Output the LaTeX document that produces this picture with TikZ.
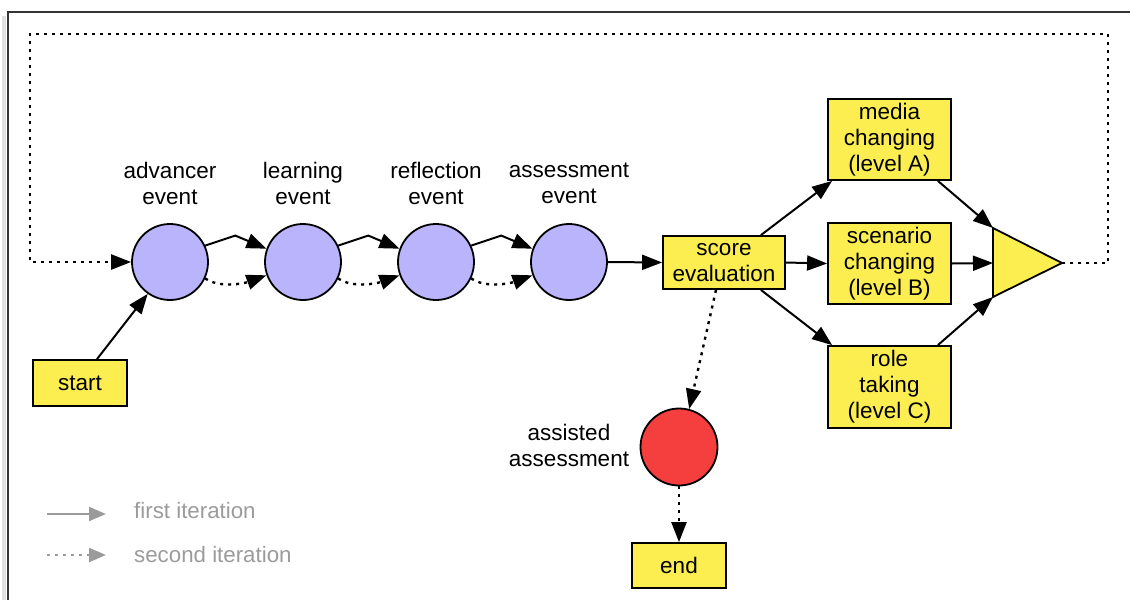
\documentclass[tikz,border=0pt]{standalone}
\usepackage{fontspec}
\setmainfont{Liberation Sans}
\usetikzlibrary{arrows.meta}
\definecolor{evpurple}{RGB}{186,180,252}
\definecolor{boxyellow}{RGB}{252,238,80}
\definecolor{evred}{RGB}{245,62,62}
\definecolor{leggray}{RGB}{155,155,155}
\begin{document}
\begin{tikzpicture}[x=1pt,y=-1pt,
  every node/.style={font=\fontsize{22.5}{26}\selectfont},
  event/.style={circle,draw,line width=1.8pt,fill=evpurple,minimum size=76pt,inner sep=0pt},
  redevent/.style={circle,draw,line width=1.8pt,fill=evred,minimum size=77pt,inner sep=0pt},
  ybox/.style={rectangle,draw,line width=1.8pt,fill=boxyellow,inner sep=0pt,align=center},
  lbl/.style={align=center,inner sep=0pt},
  arr/.style={line width=2pt,-{Triangle[length=20pt,width=15pt]}},
  darr/.style={line width=2.4pt,dash pattern=on 3pt off 5pt,-{Triangle[length=20pt,width=15pt]}},
  legarr/.style={line width=2pt,leggray,-{Triangle[length=17pt,width=14pt]}},
  legdarr/.style={line width=2.2pt,leggray,dash pattern=on 3pt off 5pt,-{Triangle[length=17pt,width=14pt]}}
]
\useasboundingbox (0,0) rectangle (1130,600);
% frame
\draw[line width=4pt,black!12] (4,600) -- (4,16);
\draw[line width=2.2pt,black!80] (8,600) -- (8,12) -- (1132,12);

% events
\node[event] (adv) at (170,262) {};
\node[event] (learn) at (303,262) {};
\node[event] (refl) at (436,262) {};
\node[event] (asm) at (569,262) {};
\node[lbl] (advl) at (170,183) {advancer\\event};
\node[lbl] (learnl) at (303,183) {learning\\event};
\node[lbl] (refll) at (436,183) {reflection\\event};
\node[lbl] (asml) at (569,183) {assessment\\event};

% boxes
\node[ybox,minimum width=122pt,minimum height=53pt] (score) at (724,262.5) {score\\evaluation};
\node[ybox,minimum width=123pt,minimum height=81pt] (media) at (889.5,139.5) {media\\changing\\(level A)};
\node[ybox,minimum width=123pt,minimum height=81pt] (scen) at (889.5,263.5) {scenario\\changing\\(level B)};
\node[ybox,minimum width=123pt,minimum height=82pt] (role) at (889.5,387) {role\\taking\\(level C)};
\node[ybox,minimum width=94pt,minimum height=46pt] (start) at (80,383) {start};
\node[ybox,minimum width=94pt,minimum height=45pt] (end) at (679,565.5) {end};
\node[redevent] (red) at (679,447) {};
\node[lbl] (redl) at (569,445) {assisted\\assessment};

% triangle
\coordinate (triT) at (993,228);
\coordinate (triB) at (993,297);
\coordinate (triM) at (993,263);
\coordinate (triTip) at (1062,263);
\draw[line width=1.8pt,fill=boxyellow,line join=miter] (triT) -- (triTip) -- (triB) -- cycle;

% loop
\coordinate (lp1) at (1108,263);
\coordinate (lp2) at (1108,34);
\coordinate (lp3) at (30,34);
\coordinate (lp4) at (30,262);
\draw[darr] (triTip) -- (lp1) -- (lp2) -- (lp3) -- (lp4) -- (adv.west);

% start
\draw[arr] ([xshift=17pt]start.north) -- (adv.235);

% between events
\draw[arr] (adv.25) -- ++(30,-10) -- (learn.160);
\draw[darr] (adv.-25) .. controls +(14,10) and +(-22,8) .. (learn.200);
\draw[arr] (learn.25) -- ++(30,-10) -- (refl.160);
\draw[darr] (learn.-25) .. controls +(14,10) and +(-22,8) .. (refl.200);
\draw[arr] (refl.25) -- ++(30,-10) -- (asm.160);
\draw[darr] (refl.-25) .. controls +(14,10) and +(-22,8) .. (asm.200);
\draw[arr] (asm.east) -- (score.west);

% score to levels
\draw[arr] ([xshift=-25pt]score.north east) -- ([xshift=5pt]media.south west);
\draw[arr] (score.east) -- (scen.west);
\draw[arr] ([xshift=-25pt]score.south east) -- ([xshift=5pt]role.north west);
\draw[arr] ([xshift=-14pt]media.south east) -- (triT);
\draw[arr] (scen.east) -- (triM);
\draw[arr] ([xshift=-14pt]role.north east) -- (triB);

% assisted assessment
\draw[darr] ([xshift=-8pt]score.south) -- (red.75);
\draw[darr] (red.south) -- (end.north);

% legend
\coordinate (l1a) at (47,514);
\coordinate (l1b) at (106,514);
\coordinate (l2a) at (47,555);
\coordinate (l2b) at (106,555);
\draw[legarr] (l1a) -- (l1b);
\draw[legdarr] (l2a) -- (l2b);
\node[anchor=west,inner sep=0pt,text=leggray,font=\fontsize{22.3}{26}\selectfont] (leg1) at (134,511) {first iteration};
\node[anchor=west,inner sep=0pt,text=leggray,font=\fontsize{22.3}{26}\selectfont] (leg2) at (134,555) {second iteration};
\end{tikzpicture}
\end{document}
